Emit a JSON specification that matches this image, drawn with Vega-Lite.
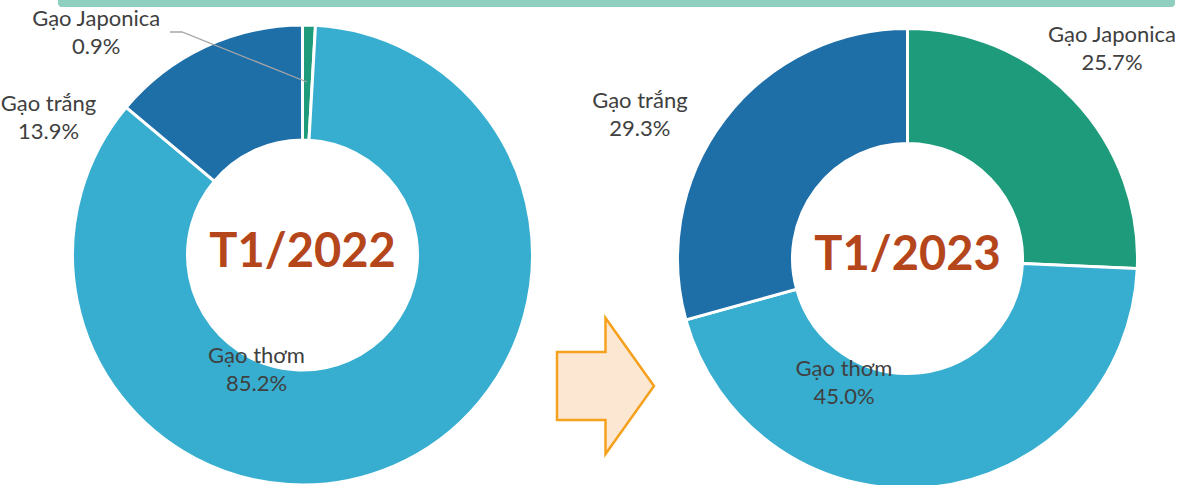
{
  "$schema": "https://vega.github.io/schema/vega-lite/v6.json",
  "padding": 0,
  "background": "white",
  "bounds": "flush",
  "spacing": 0,
  "config": {
    "view": {"stroke": null},
    "text": {"font": "Lato", "fontSize": 22, "color": "#404040", "align": "center", "baseline": "middle"}
  },
  "datasets": {
    "t2022": [
      {"period": "T1/2022", "type": "Gạo Japonica", "value": 0.009},
      {"period": "T1/2022", "type": "Gạo thơm", "value": 0.852},
      {"period": "T1/2022", "type": "Gạo trắng", "value": 0.139}
    ],
    "t2023": [
      {"period": "T1/2023", "type": "Gạo Japonica", "value": 0.257},
      {"period": "T1/2023", "type": "Gạo thơm", "value": 0.450},
      {"period": "T1/2023", "type": "Gạo trắng", "value": 0.293}
    ]
  },
  "vconcat": [
    {
      "spacing": 0,
      "bounds": "flush",
      "hconcat": [
        {"width": 58, "height": 7, "data": {"values": [{}]}, "mark": {"type": "rect", "opacity": 0}, "encoding": {}},
        {"width": 1117, "height": 7, "data": {"values": [{}]}, "mark": {"type": "rect", "color": "#8ecfbf", "cornerRadiusBottomLeft": 7, "cornerRadiusBottomRight": 7}, "encoding": {}}
      ]
    },
    {
      "spacing": 0,
      "bounds": "flush",
      "hconcat": [
        {
          "width": 605,
          "height": 510,
          "data": {"name": "t2022"},
          "layer": [
            {
              "mark": {"type": "arc", "outerRadius": 230, "innerRadius": 115, "stroke": "white", "strokeWidth": 3},
              "encoding": {
                "theta": {"field": "value", "type": "quantitative", "stack": true},
                "color": {"field": "type", "type": "nominal", "legend": null, "scale": {"domain": ["Gạo Japonica", "Gạo thơm", "Gạo trắng"], "range": ["#1e9b7a", "#37aed0", "#1e6ea8"]}},
                "order": {"field": "type", "type": "nominal", "sort": "ascending"}
              }
            },
            {
              "data": {"values": [{}]},
              "mark": {"type": "point", "shape": "M -1 -0.365 L -0.825 -0.365 L 1 0.365", "size": 18769, "filled": false, "stroke": "#a6a6a6", "strokeWidth": 1.3, "opacity": 1, "x": 238.5, "y": 57},
              "encoding": {}
            },
            {
              "data": {"values": [{}]},
              "mark": {"type": "point", "shape": "M -0.713 -0.5 L 0 -0.5 L 0 -1 L 0.713 0 L 0 1 L 0 0.5 L -0.713 0.5 Z", "size": 18496, "filled": true, "fill": "#fce8d2", "stroke": "#f5a11e", "strokeWidth": 2.5, "opacity": 1, "fillOpacity": 1, "x": 605.5, "y": 386},
              "encoding": {}
            },
            {
              "transform": [{"filter": "datum.type === 'Gạo Japonica'"}],
              "mark": {"type": "text", "theta": -0.749, "radius": 303, "dy": -14.25},
              "encoding": {"text": {"field": "type"}}
            },
            {
              "transform": [{"filter": "datum.type === 'Gạo Japonica'"}],
              "mark": {"type": "text", "theta": -0.749, "radius": 303, "dy": 14.25},
              "encoding": {"text": {"field": "value", "type": "quantitative", "format": ".1%"}}
            },
            {
              "transform": [{"filter": "datum.type === 'Gạo trắng'"}],
              "mark": {"type": "text", "theta": -1.076, "radius": 288.6, "dy": -14.25},
              "encoding": {"text": {"field": "type"}}
            },
            {
              "transform": [{"filter": "datum.type === 'Gạo trắng'"}],
              "mark": {"type": "text", "theta": -1.076, "radius": 288.6, "dy": 14.25},
              "encoding": {"text": {"field": "value", "type": "quantitative", "format": ".1%"}}
            },
            {
              "transform": [{"filter": "datum.type === 'Gạo thơm'"}],
              "mark": {"type": "text", "theta": -2.761, "radius": 123.9, "dy": -14.25},
              "encoding": {"text": {"field": "type"}}
            },
            {
              "transform": [{"filter": "datum.type === 'Gạo thơm'"}],
              "mark": {"type": "text", "theta": -2.761, "radius": 123.9, "dy": 14.25},
              "encoding": {"text": {"field": "value", "type": "quantitative", "format": ".1%"}}
            },
            {
              "transform": [{"filter": "datum.type === 'Gạo thơm'"}],
              "mark": {"type": "text", "fontSize": 47, "fontWeight": "bold", "color": "#b5461c", "dy": -2.5},
              "encoding": {"text": {"field": "period"}}
            }
          ]
        },
        {
          "width": 605,
          "height": 517,
          "data": {"name": "t2023"},
          "layer": [
            {
              "mark": {"type": "arc", "outerRadius": 230, "innerRadius": 115, "stroke": "white", "strokeWidth": 3},
              "encoding": {
                "theta": {"field": "value", "type": "quantitative", "stack": true},
                "color": {"field": "type", "type": "nominal", "legend": null, "scale": {"domain": ["Gạo Japonica", "Gạo thơm", "Gạo trắng"], "range": ["#1e9b7a", "#37aed0", "#1e6ea8"]}},
                "order": {"field": "type", "type": "nominal", "sort": "ascending"}
              }
            },
            {
              "transform": [{"filter": "datum.type === 'Gạo Japonica'"}],
              "mark": {"type": "text", "theta": 0.773, "radius": 292.8, "dy": -14.25},
              "encoding": {"text": {"field": "type"}}
            },
            {
              "transform": [{"filter": "datum.type === 'Gạo Japonica'"}],
              "mark": {"type": "text", "theta": 0.773, "radius": 292.8, "dy": 14.25},
              "encoding": {"text": {"field": "value", "type": "quantitative", "format": ".1%"}}
            },
            {
              "transform": [{"filter": "datum.type === 'Gạo trắng'"}],
              "mark": {"type": "text", "theta": -1.079, "radius": 303.6, "dy": -14.25},
              "encoding": {"text": {"field": "type"}}
            },
            {
              "transform": [{"filter": "datum.type === 'Gạo trắng'"}],
              "mark": {"type": "text", "theta": -1.079, "radius": 303.6, "dy": 14.25},
              "encoding": {"text": {"field": "value", "type": "quantitative", "format": ".1%"}}
            },
            {
              "transform": [{"filter": "datum.type === 'Gạo thơm'"}],
              "mark": {"type": "text", "theta": -2.670, "radius": 139.8, "dy": -14.25},
              "encoding": {"text": {"field": "type"}}
            },
            {
              "transform": [{"filter": "datum.type === 'Gạo thơm'"}],
              "mark": {"type": "text", "theta": -2.670, "radius": 139.8, "dy": 14.25},
              "encoding": {"text": {"field": "value", "type": "quantitative", "format": ".1%"}}
            },
            {
              "transform": [{"filter": "datum.type === 'Gạo thơm'"}],
              "mark": {"type": "text", "fontSize": 47, "fontWeight": "bold", "color": "#b5461c", "dy": -2.5},
              "encoding": {"text": {"field": "period"}}
            }
          ]
        }
      ]
    }
  ]
}
